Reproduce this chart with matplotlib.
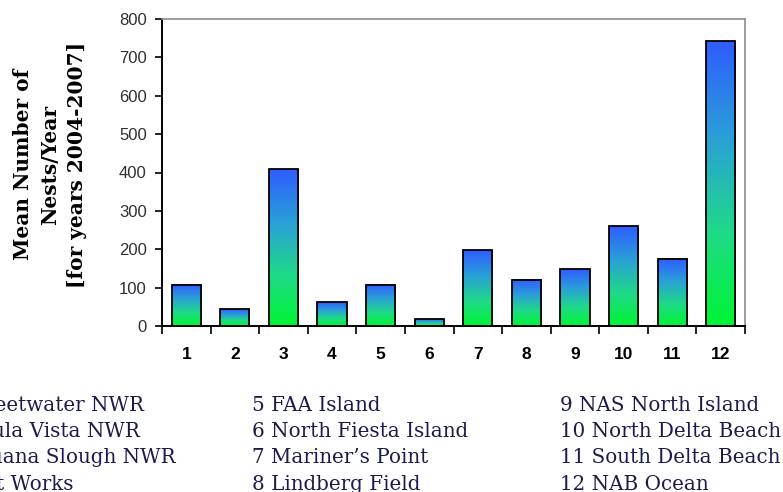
import matplotlib.pyplot as plt
import numpy as np
from matplotlib.colors import LinearSegmentedColormap
from matplotlib.ticker import FixedLocator, NullFormatter

# nest counts per site
sites = np.arange(1, 13)
nests = [107, 44, 409, 62, 107, 17, 198, 120, 148, 260, 175, 742]
site_names = ['Sweetwater NWR', 'Chula Vista NWR', 'Tijuana Slough NWR', 'Salt Works',
              'FAA Island', 'North Fiesta Island', 'Mariner\u2019s Point', 'Lindberg Field',
              'NAS North Island', 'North Delta Beach', 'South Delta Beach', 'NAB Ocean']
y_ticks = [0, 100, 200, 300, 400, 500, 600, 700, 800]

fig = plt.figure(figsize=(7.83, 4.92), dpi=100)
ax = fig.add_axes([162 / 783, 1 - 326 / 492, 583 / 783, 307 / 492])

# green to blue fill for the bars
cmap = LinearSegmentedColormap.from_list('gb', ['#00f533', '#1fd98a', '#2a9fd8', '#2f5cff'])
grad = np.linspace(0, 1, 256).reshape(-1, 1)
width = 0.6
for x, h in zip(sites, nests):
    ax.imshow(grad, extent=[x - width / 2, x + width / 2, 0, h], aspect='auto',
              cmap=cmap, origin='lower', zorder=2, interpolation='bilinear')
ax.bar(sites, nests, width=width, fill=False, edgecolor='black', linewidth=1.3, zorder=3)

ax.set_xlim(0.5, 12.5)
ax.set_ylim(0, 800)

# axes frame
for side in ['top', 'right']:
    ax.spines[side].set_color('#8c8c8c')
    ax.spines[side].set_linewidth(1.2)
for side in ['left', 'bottom']:
    ax.spines[side].set_color('black')
    ax.spines[side].set_linewidth(1.4)

ax.set_yticks(y_ticks)
ax.set_yticklabels([str(v) for v in y_ticks], fontsize=12, family='Liberation Sans', color='#303030')
ax.tick_params(axis='y', direction='out', length=5, width=1.2, pad=6)

# ticks between categories, labels under each bar
ax.xaxis.set_major_locator(FixedLocator(np.arange(0.5, 13, 1)))
ax.xaxis.set_major_formatter(NullFormatter())
ax.xaxis.set_minor_locator(FixedLocator(sites))
ax.set_xticklabels([str(s) for s in sites], minor=True, fontsize=12.5,
                   family='Liberation Sans', fontweight='bold')
ax.tick_params(axis='x', which='major', direction='out', length=6, width=1.2)
ax.tick_params(axis='x', which='minor', length=0, pad=15)

fig.text(0.064, 0.665, 'Mean Number of\nNests/Year\n[for years 2004-2007]', rotation=90,
         ha='center', va='center', fontsize=14.5, fontweight='bold', family='DejaVu Serif',
         linespacing=1.45)

# site key below the chart
navy = '#1c1c4c'
cols = [(-0.07, 0), (252 / 783, 4), (560 / 783, 8)]
for x0, start in cols:
    lines = [f'{start + i + 1} {site_names[start + i]}' for i in range(4)]
    fig.text(x0, 1 - 396 / 492, '\n'.join(lines), ha='left', va='top', fontsize=14.35,
             family='DejaVu Serif', color=navy, linespacing=1.48)

fig.savefig('out.png', dpi=100)
